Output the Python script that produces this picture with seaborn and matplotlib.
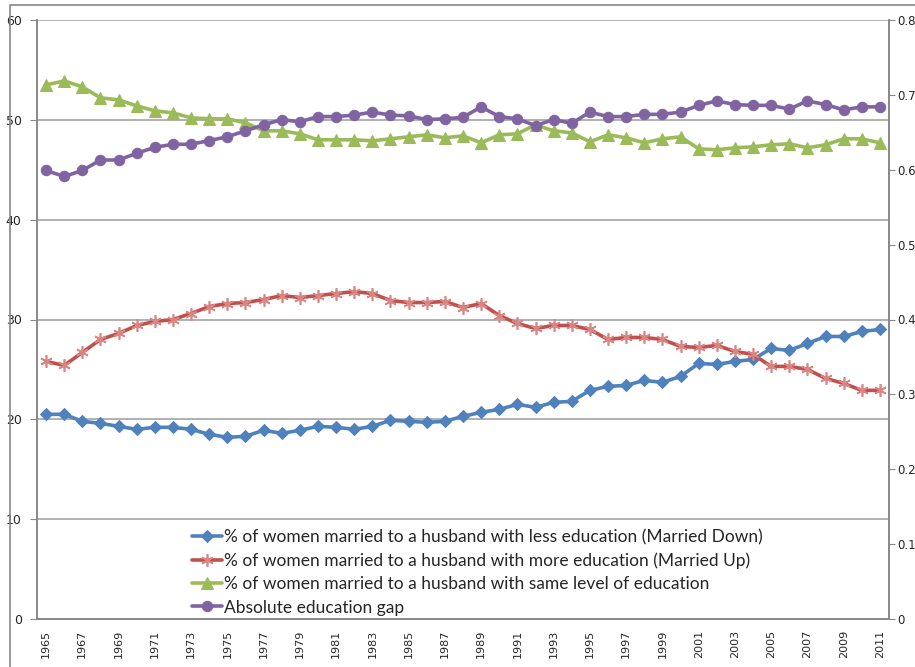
import numpy as np
import pandas as pd
import matplotlib
matplotlib.use('Agg')
import matplotlib.pyplot as plt
import seaborn as sns
from matplotlib.patches import Rectangle

# ── Data ────────────────────────────────────────────────────────────────────
years = list(range(1965, 2012))

married_down = [20.5, 20.5, 19.8, 19.6, 19.3, 19.0, 19.2, 19.2, 19.0, 18.5,
                18.2, 18.3, 18.9, 18.6, 18.9, 19.3, 19.2, 19.0, 19.3, 19.9,
                19.8, 19.7, 19.8, 20.3, 20.7, 21.0, 21.5, 21.2, 21.7, 21.8,
                22.9, 23.3, 23.4, 23.9, 23.7, 24.3, 25.6, 25.5, 25.8, 26.0,
                27.1, 26.9, 27.6, 28.3, 28.3, 28.8, 29.0]

married_up = [25.8, 25.4, 26.7, 28.0, 28.6, 29.4, 29.8, 30.0, 30.6, 31.3,
              31.6, 31.7, 32.0, 32.4, 32.2, 32.4, 32.6, 32.8, 32.6, 31.9,
              31.7, 31.7, 31.8, 31.2, 31.6, 30.4, 29.6, 29.1, 29.4, 29.4,
              29.0, 28.0, 28.2, 28.2, 28.0, 27.3, 27.2, 27.4, 26.8, 26.5,
              25.3, 25.3, 25.0, 24.1, 23.6, 22.9, 22.9]

same_level = [53.5, 53.9, 53.3, 52.2, 52.0, 51.4, 50.9, 50.7, 50.2, 50.1,
              50.1, 49.7, 48.9, 48.9, 48.6, 48.0, 48.0, 48.0, 47.9, 48.1,
              48.3, 48.5, 48.2, 48.4, 47.7, 48.5, 48.6, 49.5, 48.9, 48.7,
              47.8, 48.5, 48.2, 47.7, 48.1, 48.3, 47.1, 47.0, 47.2, 47.3,
              47.5, 47.6, 47.2, 47.5, 48.1, 48.1, 47.7]

edu_gap = [0.599, 0.591, 0.599, 0.613, 0.613, 0.622, 0.630, 0.634, 0.634, 0.639,
           0.644, 0.652, 0.660, 0.667, 0.664, 0.671, 0.671, 0.673, 0.677, 0.673,
           0.672, 0.667, 0.668, 0.670, 0.684, 0.671, 0.668, 0.659, 0.667, 0.662,
           0.677, 0.671, 0.671, 0.674, 0.674, 0.677, 0.686, 0.692, 0.687, 0.686,
           0.686, 0.681, 0.692, 0.687, 0.680, 0.684, 0.684]

labels = ['% of women married to a husband with less education (Married Down)',
          '% of women married to a husband with more education (Married Up)',
          '% of women married to a husband with same level of education',
          'Absolute education gap']

right_ticks = ['0', '0.1', '0.2', '0.3', '0.4', '0.5', '0.6', '0.7', '0.8']

df = pd.DataFrame({'pos': np.arange(len(years)), 'year': years,
                   'down': married_down, 'up': married_up,
                   'same': same_level, 'gap': edu_gap})

# ── Plot ────────────────────────────────────────────────────────────────────
sns.set_style('white')
W, H = 915, 667
fig = plt.figure(figsize=(W / 100, H / 100), dpi=100)
ax = fig.add_axes([37 / W, 1 - 619 / H, (889 - 37) / W, (619 - 20) / H])
ax2 = ax.twinx()

# outer chart-area frame (Excel style)
fig.patches.append(Rectangle((10 / W, -0.1), 1.2, 1 - 5 / H + 0.1,
                             transform=fig.transFigure, fill=False,
                             edgecolor='#888888', lw=1.2))

lw = 2.6
sns.lineplot(data=df, x='pos', y='down', ax=ax, color='#4F81BD', lw=lw,
             marker='D', markersize=6, markeredgecolor='#4F81BD', label=labels[0])
sns.lineplot(data=df, x='pos', y='up', ax=ax, color='#C0504D', lw=lw,
             marker=(6, 2, 0), markersize=9, markeredgecolor='#D98583',
             markeredgewidth=1.2, label=labels[1])
sns.lineplot(data=df, x='pos', y='same', ax=ax, color='#9BBB59', lw=lw,
             marker='^', markersize=8, markeredgecolor='#9BBB59', label=labels[2])
sns.lineplot(data=df, x='pos', y='gap', ax=ax2, color='#8064A2', lw=lw,
             marker='o', markersize=7.5, markeredgecolor='#8064A2', label=labels[3])

ax.set_xlim(-0.5, len(years) - 0.5)
ax.set_ylim(0, 60)
ax2.set_ylim(0, 0.8)
ax.set_xlabel('')
ax.set_ylabel('')
ax2.set_ylabel('')

ax.set_yticks(range(0, 61, 10))
ax.yaxis.grid(True, color='#B0B0B0', lw=1.4)
ax.set_axisbelow(True)
ax2.set_yticks(np.arange(0, 0.81, 0.1))
ax2.set_yticklabels(right_ticks)

# category axis: labels on every other year, tick marks between categories
ax.set_xticks(df['pos'][::2])
ax.set_xticklabels(df['year'][::2], rotation=90)
ax.set_xticks(np.arange(-0.5, len(years), 1), minor=True)
ax.tick_params(axis='x', which='major', length=0, labelsize=8, pad=8)
ax.tick_params(axis='x', which='minor', length=5, color='#888888', width=1)
ax.tick_params(axis='y', length=5, color='#888888', labelsize=9, pad=6)
ax2.tick_params(axis='y', length=4, color='#888888', labelsize=8.5, pad=2)

for a in (ax, ax2):
    for s in a.spines.values():
        s.set_color('#888888')
        s.set_linewidth(1.2)
ax.spines['top'].set_visible(False)
ax2.spines['top'].set_visible(False)

h1, l1 = ax.get_legend_handles_labels()
h2, l2 = ax2.get_legend_handles_labels()
if ax2.get_legend():
    ax2.get_legend().remove()
ax.get_legend().remove()
ax2.legend(h1 + h2, l1 + l2, loc='lower left',
           bbox_to_anchor=((189 - 37) / (889 - 37), 0.0),
           frameon=False, prop={'family': 'Lato', 'size': 12.5},
           handlelength=1.7, handletextpad=0.1, labelspacing=0.42,
           borderaxespad=0.0, borderpad=0.2)

fig.savefig('out.png', dpi=100)
